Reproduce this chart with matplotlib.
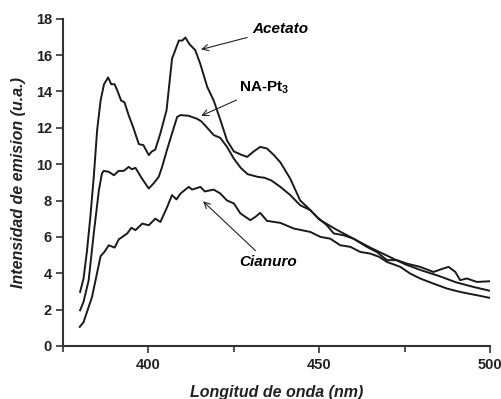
import numpy as np
import matplotlib.pyplot as plt
from matplotlib.ticker import MultipleLocator

plt.rc('font', family='Liberation Sans', size=10.5, weight='bold')
plt.rc('axes', linewidth=1.5)
plt.rc('mathtext', fontset='custom', bf='Liberation Sans:bold', rm='Liberation Sans')

# Acetato
x_acet = [380, 381, 382, 383, 384, 385, 386, 387, 388.2, 389.1, 390.1, 391, 392, 393,
          394.2, 395.5, 397.2, 398.5, 400.1, 401, 402, 403.5, 405.3, 406.9, 408.9,
          409.9, 410.8, 412, 413.7, 415.2, 417.2, 419.1, 421.1, 423, 425, 427.4,
          428.9, 430.8, 432.7, 434.7, 436.7, 438.6, 441.5, 444.4, 446.4, 449.3,
          452.2, 454.2, 457.1, 460, 463.9, 466.8, 469.8, 472.7, 475.6, 479.5,
          483.4, 486.3, 487.8, 489.8, 491.2, 493.2, 496.1, 500]
y_acet = [2.97, 3.7, 5.2, 7.1, 9.3, 11.9, 13.5, 14.4, 14.77, 14.4, 14.4, 14.0, 13.5,
          13.4, 12.7, 12.05, 11.1, 11.05, 10.5, 10.7, 10.8, 11.7, 12.97, 15.8, 16.8,
          16.8, 16.97, 16.6, 16.27, 15.5, 14.25, 13.5, 12.4, 11.3, 10.7, 10.5, 10.4,
          10.7, 10.95, 10.86, 10.5, 10.1, 9.2, 8.0, 7.65, 7.1, 6.64, 6.19, 6.09, 5.9,
          5.45, 5.17, 4.72, 4.72, 4.53, 4.35, 4.07, 4.26, 4.35, 4.07, 3.62, 3.71,
          3.52, 3.56]

# NA-Pt3
x_napt = [380, 381, 382.5, 384, 385.5, 386.4, 386.9, 388.4, 389.9, 391.3, 392.8,
          394.2, 395.2, 396.2, 398.1, 400.1, 401.5, 403, 404, 405.4, 406.9, 408.4,
          409.4, 411.8, 414.2, 415.5, 417.2, 419.1, 421, 423, 425, 427, 429, 432,
          434, 436, 438.6, 441.5, 444.4, 447.4, 450, 455, 460, 465, 470, 475, 480,
          485, 490, 495, 500]
y_napt = [1.96, 2.42, 3.6, 6.19, 8.57, 9.49, 9.63, 9.58, 9.39, 9.63, 9.63, 9.85,
          9.72, 9.8, 9.21, 8.66, 8.94, 9.3, 9.85, 10.77, 11.69, 12.6, 12.7, 12.66,
          12.5, 12.35, 12.0, 11.6, 11.45, 10.95, 10.3, 9.8, 9.45, 9.3, 9.25, 9.1,
          8.75, 8.3, 7.74, 7.47, 6.95, 6.4, 5.9, 5.4, 4.95, 4.5, 4.15, 3.85, 3.5,
          3.25, 3.03]

# Cianuro
x_cian = [379.9, 381, 383.5, 386, 387.1, 388.4, 390.1, 391.3, 393.8, 395, 396.2,
          398.2, 400.1, 402, 403.5, 405.5, 406.9, 408.2, 409.4, 411.8, 412.8, 415.2,
          416.5, 419.1, 421, 423, 425, 426.9, 429.8, 431.3, 432.7, 434.7, 438.6,
          442.5, 447.4, 450.3, 453.2, 456.1, 459.1, 462, 464.9, 467.5, 469.8, 473.7,
          476.6, 479.5, 483.4, 487.3, 491.2, 496.1, 500]
y_cian = [1.05, 1.3, 2.7, 4.94, 5.17, 5.54, 5.41, 5.86, 6.19, 6.5, 6.37, 6.73, 6.64,
          7.0, 6.82, 7.65, 8.3, 8.06, 8.39, 8.75, 8.6, 8.75, 8.5, 8.6, 8.39, 8.0,
          7.84, 7.29, 6.92, 7.1, 7.32, 6.88, 6.77, 6.46, 6.27, 6.0, 5.9, 5.54, 5.45,
          5.17, 5.08, 4.9, 4.62, 4.35, 3.98, 3.71, 3.43, 3.16, 2.97, 2.79, 2.64]

fig = plt.figure(figsize=(5.02, 3.99), dpi=100)
ax = fig.add_axes([0.1255, 0.133, 0.851, 0.820])

ax.plot(x_acet, y_acet, color='#1a1a1a', linewidth=1.4)
ax.plot(x_napt, y_napt, color='#1a1a1a', linewidth=1.4)
ax.plot(x_cian, y_cian, color='#1a1a1a', linewidth=1.4)

ax.set_xlim(375, 500)
ax.set_ylim(0, 18)
ax.xaxis.set_minor_locator(MultipleLocator(25))
ax.yaxis.set_major_locator(MultipleLocator(2))
ax.set_xticks([400, 450, 500])
ax.tick_params(which='both', direction='out', width=1.2, color='#333333')
ax.tick_params(which='major', length=5)
ax.tick_params(which='minor', length=4)
ax.tick_params(axis='x', pad=4)
ax.tick_params(axis='y', pad=3)
for lab in ax.get_xticklabels() + ax.get_yticklabels():
    lab.set_fontweight('bold')
    lab.set_color('#222222')
ax.spines['top'].set_visible(False)
ax.spines['right'].set_visible(False)
ax.spines['left'].set_color('#333333')
ax.spines['bottom'].set_color('#333333')

ax.set_xlabel('Longitud de onda (nm)', fontstyle='italic', fontweight='bold',
              fontsize=11.5, color='#222222', labelpad=9)
ax.set_ylabel('Intensidad de emision (u.a.)', fontstyle='italic', fontweight='bold',
              fontsize=11.5, color='#222222', labelpad=7)

arrow = dict(arrowstyle='->', color='#222222', linewidth=0.8)
ax.annotate('Acetato', xy=(414.6, 16.27), xytext=(430.5, 17.45),
            fontstyle='italic', fontweight='bold', fontsize=11, va='center',
            ha='left', arrowprops=arrow)
ax.annotate('NA-Pt$_\\mathbf{3}$', xy=(414.7, 12.6), xytext=(426.5, 14.2),
            fontweight='bold', fontsize=11, va='center', ha='left',
            arrowprops=arrow)
ax.annotate('Cianuro', xy=(415.4, 8.06), xytext=(426.5, 4.6),
            fontstyle='italic', fontweight='bold', fontsize=11, va='center',
            ha='left', arrowprops=arrow)

plt.savefig('out.png', dpi=100)
